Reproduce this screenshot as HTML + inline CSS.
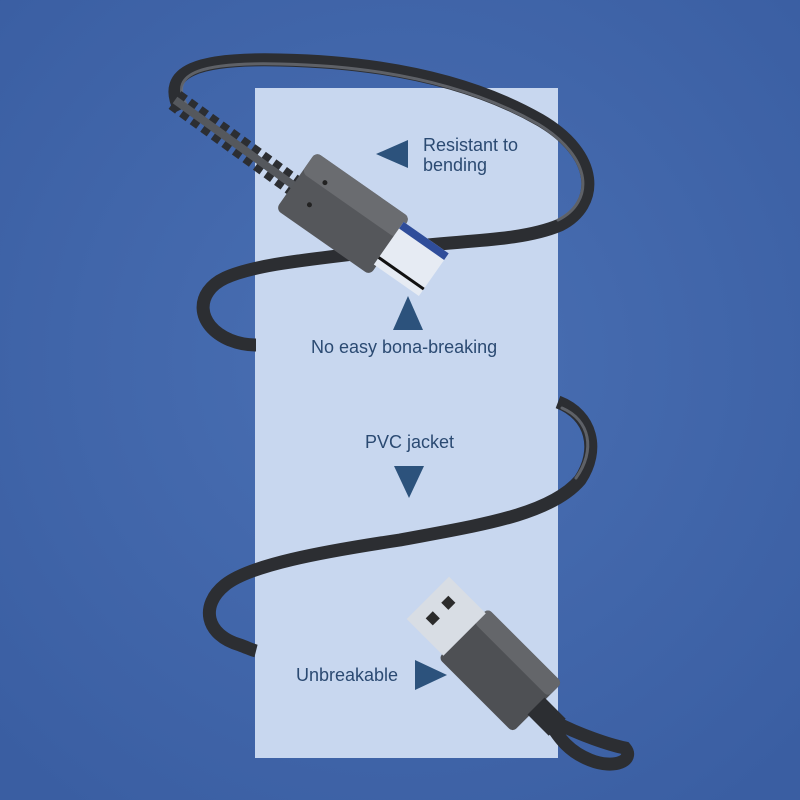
<!DOCTYPE html>
<html><head><style>
body{margin:0;width:800px;height:800px;overflow:hidden;background:#3f63a6}
svg{display:block}
text{font-family:"Liberation Sans",sans-serif;fill:#2b4a72;font-size:18px;font-weight:500}
</style></head><body>
<svg width="800" height="800" viewBox="0 0 800 800">
<defs>
<radialGradient id="bg" cx="50%" cy="45%" r="70%"><stop offset="0" stop-color="#4a70b4"/><stop offset="1" stop-color="#3a5ea2"/></radialGradient>
</defs>
<rect width="800" height="800" fill="url(#bg)"/>
<rect x="255" y="88" width="303" height="670" fill="#c8d7ef"/>
<g fill="none" stroke="#2c2e32" stroke-width="13" stroke-linecap="butt">
<path d="M180,110 C160,70 200,58 280,60 C380,62 470,80 540,120 C600,155 600,205 560,225 C520,242 460,240 400,248 C330,258 260,262 225,278 C195,292 195,325 230,340 C240,344 250,345 256,345"/>
<path d="M558,402 C592,415 600,450 580,480 C550,515 480,525 400,540 C320,552 250,565 225,585 C200,605 205,635 240,645 C248,648 252,650 256,651"/>
<path d="M555,722 C580,735 610,745 625,748 C635,760 615,770 590,760 C570,752 560,740 548,720"/>
</g>
<g fill="none" stroke="#6b6e74" stroke-width="3" stroke-linecap="round" opacity=".8">
<path d="M186,104 C168,72 205,62 280,64 C380,66 468,84 538,124 C594,158 594,202 558,220"/>
<path d="M562,408 C590,420 596,450 576,478"/>
</g>
<path d="M175,100 L300,190" stroke="#2c2e32" stroke-width="22" stroke-dasharray="8 5" stroke-linecap="butt"/>
<path d="M175,100 L300,190" stroke="#55585d" stroke-width="8"/>
<g transform="translate(345,215) rotate(35)">
<rect x="-60" y="-35" width="115" height="70" rx="6" fill="#55575b"/>
<rect x="-60" y="-35" width="115" height="25" rx="6" fill="#6a6c70"/>
<circle cx="-35" cy="-15" r="2.5" fill="#222"/><circle cx="-35" cy="12" r="2.5" fill="#222"/>
<rect x="52" y="-28" width="55" height="52" fill="#e6ebf3"/>
<rect x="52" y="-28" width="55" height="8" fill="#2f4d9a"/>
<rect x="52" y="14" width="55" height="3" fill="#111"/>
</g>
<g transform="translate(495,665) rotate(45)">
<rect x="-45" y="-35" width="105" height="70" rx="5" fill="#4e5054"/>
<rect x="-45" y="-35" width="105" height="20" rx="5" fill="#64666a"/>
<rect x="-95" y="-30" width="52" height="60" fill="#d8dde4"/>
<rect x="-82" y="-16" width="10" height="10" fill="#2b2b2b"/><rect x="-82" y="6" width="10" height="10" fill="#2b2b2b"/>
<rect x="58" y="-12" width="30" height="24" fill="#2c2e32"/>
</g>
<polygon points="376,154 408,140 408,168" fill="#2c527c"/>
<text x="423" y="151">Resistant to</text>
<text x="423" y="171">bending</text>
<polygon points="408,296 393,330 423,330" fill="#2c527c"/>
<text x="311" y="353">No easy bona-breaking</text>
<text x="365" y="448">PVC jacket</text>
<polygon points="394,466 424,466 409,498" fill="#2c527c"/>
<text x="296" y="681">Unbreakable</text>
<polygon points="415,660 415,690 447,675" fill="#2c527c"/>
</svg>
</body></html>
